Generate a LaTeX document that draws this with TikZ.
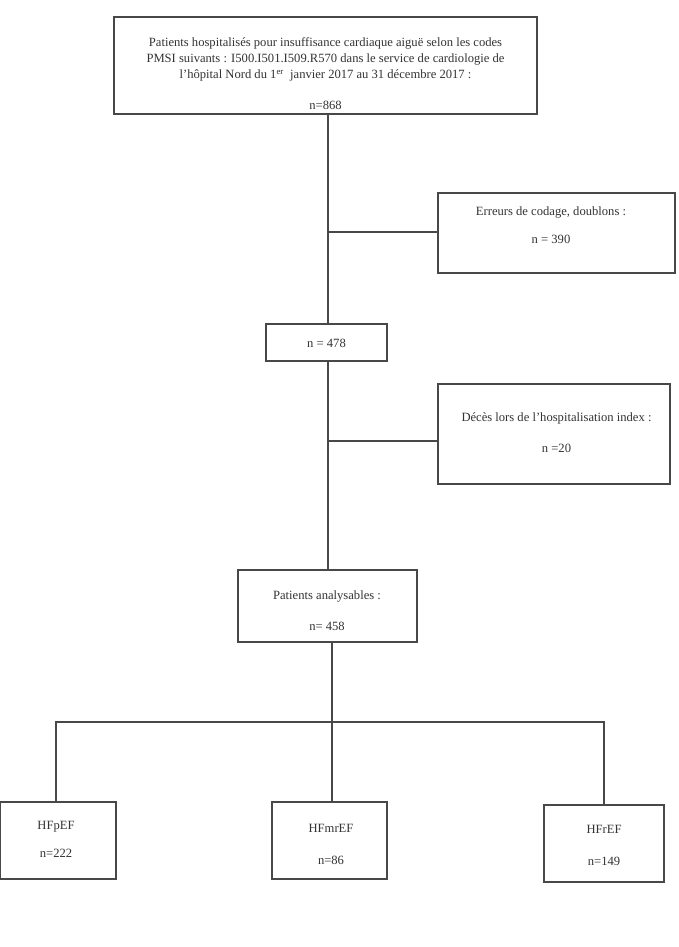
\documentclass[tikz,border=0pt]{standalone}
\usepackage{fontspec}
\setmainfont{Liberation Serif}
\definecolor{linec}{HTML}{484848}
\definecolor{textc}{HTML}{333333}
\tikzset{
  box/.style={draw=linec, line width=1.3pt, inner sep=0pt, rectangle},
  lbl/.style={text=textc, align=center, inner sep=0pt, font=\fontsize{12.6}{15.75}\selectfont},
  conn/.style={draw=linec, line width=1.3pt}
}
\begin{document}
\begin{tikzpicture}[x=1pt, y=-1pt]
\useasboundingbox[fill=white] (0,0) rectangle (679,947);
% boxes
\node[box, minimum width=423pt, minimum height=97pt] (top) at (325.5,65.5) {};
\node[box, minimum width=237pt, minimum height=80pt] (err) at (556.5,233) {};
\node[box, minimum width=121pt, minimum height=37pt] (n478) at (326.5,342.5) {};
\node[box, minimum width=232pt, minimum height=100pt] (dec) at (554,434) {};
\node[box, minimum width=179pt, minimum height=72pt] (pat) at (327.5,606) {};
\node[box, minimum width=116pt, minimum height=77pt] (hfp) at (58,840.5) {};
\node[box, minimum width=115pt, minimum height=77pt] (hfm) at (329.5,840.5) {};
\node[box, minimum width=120pt, minimum height=77pt] (hfr) at (604,843.5) {};
% texts
\node[lbl] (ttop) at (325.5,74) {Patients hospitalisés pour insuffisance cardiaque aiguë selon les codes\\PMSI suivants : I500.I501.I509.R570 dans le service de cardiologie de\\l’hôpital Nord du 1\textsuperscript{er}\ \ janvier 2017 au 31 décembre 2017 :\\ \\n=868};
\node[lbl, font=\fontsize{12.6}{28}\selectfont] (terr) at (551,225.5) {Erreurs de codage, doublons :\\n = 390};
\node[lbl] (t478) at (326.5,343) {n = 478};
\node[lbl, font=\fontsize{12.6}{31}\selectfont] (tdec) at (556.5,433) {Décès lors de l’hospitalisation index :\\n =20};
\node[lbl, font=\fontsize{12.6}{31}\selectfont] (tpat) at (327,611) {Patients analysables :\\n= 458};
\node[lbl, font=\fontsize{12.6}{28}\selectfont] (thfp) at (56,839.5) {HFpEF\\n=222};
\node[lbl, font=\fontsize{12.6}{32}\selectfont] (thfm) at (331,844.5) {HFmrEF\\n=86};
\node[lbl, font=\fontsize{12.6}{32}\selectfont] (thfr) at (604,845.5) {HFrEF\\n=149};
% junction coordinates
\coordinate (j1) at (328,232);
\coordinate (j2) at (328,441);
\coordinate (jL) at (56,722);
\coordinate (jM) at (332,722);
\coordinate (jR) at (604,722);
% connectors
\draw[conn] (top.south -| j1) -- (n478.north -| j1);
\draw[conn] (j1) -- (j1 -| err.west);
\draw[conn] (n478.south -| j2) -- (pat.north -| j2);
\draw[conn] (j2) -- (j2 -| dec.west);
\draw[conn] (pat.south -| jM) -- (jM);
\draw[conn] (jL |- hfp.north) -- (jL) -- (jR) -- (jR |- hfr.north);
\draw[conn] (jM) -- (jM |- hfm.north);
\end{tikzpicture}
\end{document}
